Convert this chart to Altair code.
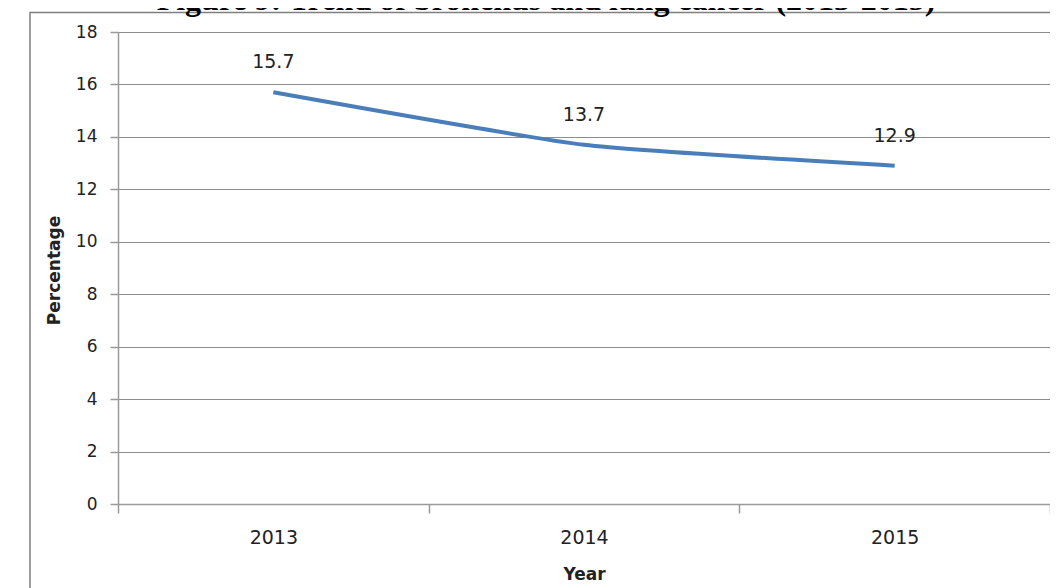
import altair as alt
import pandas as pd

years = ["2013", "2014", "2015"]
values = [15.7, 13.7, 12.9]
y_ticks = [0, 2, 4, 6, 8, 10, 12, 14, 16, 18]
title_text = "Figure 9: Trend of bronchus and lung cancer (2013-2015)"

df = pd.DataFrame({"year": years, "value": values})

AX = "#9a9a9a"
GRID = "#8c8c8c"
TXT = "#222222"

x_enc = alt.X(
    "year:O",
    bandPosition=0.5,
    scale=alt.Scale(type="band", paddingInner=0, paddingOuter=0),
    axis=alt.Axis(
        tickBand="extent", labelAngle=0, grid=False,
        tickSize=9, tickColor=AX, domainColor=AX, domainWidth=1.5, tickWidth=1.5,
        labelFont="DejaVu Sans", labelFontSize=19, labelColor=TXT, labelPadding=15,
        title="Year", titleFont="DejaVu Sans", titleFontWeight="bold", titleFontSize=17,
        titleColor=TXT, titleY=75, titleBaseline="alphabetic",
    ),
)
y_enc = alt.Y(
    "value:Q",
    scale=alt.Scale(domain=[0, 18]),
    axis=alt.Axis(
        values=y_ticks, grid=True, gridColor=GRID, gridWidth=1,
        tickSize=8, tickColor=AX, domainColor=AX, domainWidth=1.5, tickWidth=1.5,
        labelFont="DejaVu Sans", labelFontSize=17, labelColor=TXT, labelPadding=13,
        title="Percentage", titleFont="DejaVu Sans", titleFontWeight="bold", titleFontSize=17,
        titleColor=TXT, titleAngle=-90, titleX=-59, titleY=238, titleBaseline="alphabetic",
        titleAlign="center",
    ),
)

base = alt.Chart(df).encode(x=x_enc, y=y_enc)

line = base.mark_line(color="#4A7EBB", strokeWidth=4, interpolate="cardinal", tension=0.5)
labels = base.mark_text(dy=-24, baseline="alphabetic", font="DejaVu Sans",
                        fontSize=19, color=TXT).encode(text=alt.Text("value:Q", format=".1f"))

one = alt.Data(values=[{}])
border = alt.Chart(one).mark_rect(fillOpacity=0, stroke="#7f7f7f", strokeWidth=1.5).encode(
    x=alt.value(-88), x2=alt.value(960), y=alt.value(-19.5), y2=alt.value(600)
)
title = alt.Chart(one).mark_text(
    text=title_text, font="Liberation Serif", fontWeight="bold", fontSize=32,
    color="#000000", align="center", baseline="alphabetic"
).encode(x=alt.value(428), y=alt.value(-22))

chart = alt.layer(border, line, labels, title).properties(
    width=932, height=472, autosize="none",
    padding={"left": 110, "top": 24, "right": 0, "bottom": 84},
    background="white",
).configure_view(stroke=None)

chart.save("out.html", embed_options={"renderer": "svg", "actions": False})
